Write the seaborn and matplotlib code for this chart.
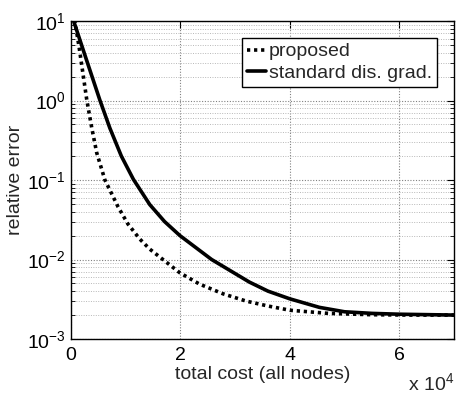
import numpy as np
import pandas as pd
import matplotlib
matplotlib.use("Agg")
import matplotlib.pyplot as plt
from matplotlib.ticker import FuncFormatter, LogLocator, FixedLocator
import seaborn as sns

# total cost (all nodes) and relative error for each method
cost_proposed = [0, 1500, 2900, 3800, 4700, 6200, 8600, 10400, 12600, 14400,
                 16800, 19900, 23500, 27800, 32000, 36000, 40000, 47000,
                 55000, 62000, 70000]
err_proposed = [20, 4.6, 1.0, 0.45, 0.22, 0.10, 0.046, 0.028, 0.018, 0.0135,
                0.010, 0.0068, 0.0049, 0.0037, 0.0030, 0.0026, 0.0023, 0.0021,
                0.00202, 0.0020, 0.0020]

cost_standard = [0, 2500, 5300, 7100, 9200, 11400, 14400, 17100, 19900, 25700,
                 32600, 36000, 40000, 45400, 50000, 55000, 60000, 70000]
err_standard = [12.6, 3.8, 1.0, 0.45, 0.20, 0.102, 0.049, 0.030, 0.020, 0.010,
                0.0052, 0.0040, 0.0032, 0.0025, 0.0022, 0.0021, 0.00205, 0.0020]

labels = ["proposed", "standard dis. grad."]
x_ticks = [0, 20000, 40000, 60000]

sns.set_style("white")
plt.rcParams["font.family"] = ["Liberation Sans", "DejaVu Sans"]
plt.rcParams["mathtext.default"] = "regular"
plt.rcParams["font.size"] = 14

fig = plt.figure(figsize=(4.59, 3.93), dpi=100)
ax = fig.add_axes([71 / 459, 1 - 339 / 393, (454 - 71) / 459, (339 - 21) / 393])

df_p = pd.DataFrame({"cost": cost_proposed, "err": err_proposed})
df_s = pd.DataFrame({"cost": cost_standard, "err": err_standard})

sns.lineplot(data=df_p, x="cost", y="err", ax=ax, color="black", lw=2.6,
             linestyle=(0, (0.9, 1.05)), label=labels[0], sort=False,
             dash_capstyle="butt")
sns.lineplot(data=df_s, x="cost", y="err", ax=ax, color="black", lw=2.6,
             linestyle="-", label=labels[1], sort=False)

ax.set_yscale("log")
ax.set_xlim(0, 70000)
ax.set_ylim(1e-3, 10)

ax.xaxis.set_major_locator(FixedLocator(x_ticks))
ax.xaxis.set_major_formatter(FuncFormatter(lambda v, p: f"{v / 1e4:g}"))
ax.yaxis.set_major_locator(LogLocator(base=10, numticks=10))
ax.yaxis.set_minor_locator(LogLocator(base=10, subs=np.arange(2, 10), numticks=20))

ax.grid(True, which="major", axis="both", color="#808080", linestyle=(0, (1, 1.5)), lw=0.8)
ax.grid(True, which="minor", axis="y", color="#b8b8b8", linestyle=(0, (1, 1.5)), lw=0.7)
ax.set_axisbelow(True)

ax.tick_params(which="both", direction="in", top=True, right=True, colors="black",
               labelsize=14)
ax.tick_params(which="major", length=5, width=0.8, pad=4)
ax.tick_params(axis="x", which="major", pad=6)
ax.tick_params(which="minor", length=3, width=0.6, left=True, right=True)
for s in ax.spines.values():
    s.set_color("black")
    s.set_linewidth(1.0)

ax.set_xlabel("total cost (all nodes)", fontsize=14, labelpad=1)
ax.set_ylabel("relative error", fontsize=14, labelpad=2)

fig.text(454 / 459, 1 - 383 / 393, r"x 10$^4$", ha="right", va="center", fontsize=14)

leg = ax.legend(loc="upper right", bbox_to_anchor=(437 / 459, 1 - 38 / 393),
                bbox_transform=fig.transFigure, frameon=True, fancybox=False,
                edgecolor="black", framealpha=1, handlelength=1.0,
                handletextpad=0.15, borderpad=0.25, labelspacing=0.2,
                borderaxespad=0, fontsize=14)
leg.get_frame().set_linewidth(1.0)

fig.savefig("out.png", dpi=100)
